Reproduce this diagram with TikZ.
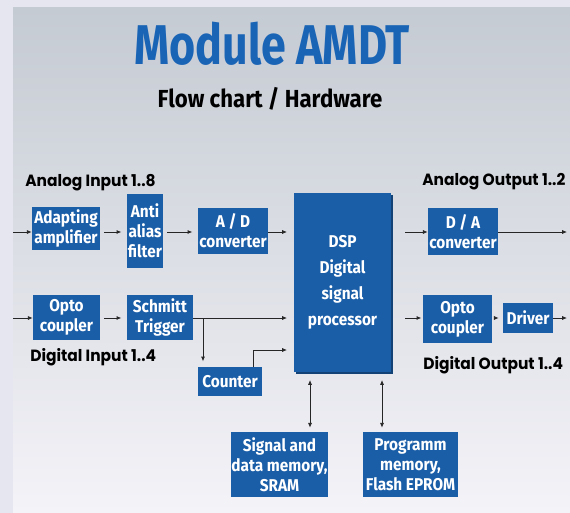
\documentclass[tikz,border=0pt]{standalone}
\usepackage{fontspec}
\setmainfont{Fira Sans}[FakeStretch=0.9]
\newfontfamily\titlefont{Fira Sans}[FakeStretch=0.8]
\newfontfamily\lblfont{Poppins}[FakeStretch=0.95]
\usetikzlibrary{arrows.meta}
\definecolor{outerbg}{RGB}{230,230,240}
\definecolor{paneltop}{RGB}{197,203,211}
\definecolor{panelbot}{RGB}{244,243,248}
\definecolor{amdtblue}{RGB}{27,94,168}
\definecolor{titleblue}{RGB}{26,100,182}
\tikzset{
  blk/.style={fill=amdtblue, text=white, align=center, inner sep=0pt,
    font=\bfseries\fontsize{12.8}{15}\selectfont},
  lbl/.style={anchor=west, inner sep=0pt, font=\lblfont\bfseries\fontsize{12.2}{13}\selectfont},
  flow/.style={-{Latex[length=3.6pt,width=3pt]}, line width=0.6pt, black!85},
  both/.style={{Latex[length=3.6pt,width=3pt]}-{Latex[length=3.6pt,width=3pt]}, line width=0.6pt, black!85}
}
\begin{document}
\begin{tikzpicture}[x=0.75pt,y=0.75pt,yscale=-1,xscale=1]
	\useasboundingbox (0,0) rectangle (570,513);
	%Background
	\fill [outerbg] (0,0) rectangle (570,513);
	\shade [top color=paneltop, bottom color=panelbot] (13,8) rectangle (570,513);

	% Title
	\node (title) at (272,44) [text=titleblue, inner sep=0pt, font=\titlefont\bfseries\fontsize{42}{44}\selectfont] {Module AMDT};
	\node (subtitle) at (270,99) [inner sep=0pt, font=\bfseries\fontsize{18.5}{20}\selectfont] {Flow chart / Hardware};

	% Labels
	\node (ain) at (25,183) [lbl] {Analog Input 1..8};
	\node (din) at (30,357) [lbl] {Digital Input 1..4};
	\node (aout) at (422,182) [lbl] {Analog Output 1..2};
	\node (dout) at (423,365) [lbl] {Digital Output 1..4};

	% Blocks
	\node (adapt) at (66,228.5) [blk, minimum width=51pt, minimum height=32.25pt] {Adapting\\amplifier};
	\node (alias) at (145,231) [blk, minimum width=27pt, minimum height=55.5pt] {Anti\\alias\\filter};
	\node (adc) at (233,231) [blk, minimum width=52.5pt, minimum height=34.5pt] {A / D\\converter};
	\node (optoin) at (66.5,317.5) [blk, minimum width=50.25pt, minimum height=33.75pt] {Opto\\coupler};
	\node (schmitt) at (160,317.5) [blk, minimum width=49.5pt, minimum height=33.75pt] {Schmitt\\Trigger};
	\node (counter) at (230,381.5) [blk, minimum width=48pt, minimum height=21.75pt] {Counter};
	%DSP with shadow edge
	\fill [amdtblue!70!black] (296,195) rectangle (393,374);
	\node (dsp) at (342.5,282.5) [blk, minimum width=72.75pt, minimum height=134.25pt, font=\bfseries\fontsize{12.8}{19.5}\selectfont] {DSP\\Digital\\signal\\processor};
	\node (dac) at (463,231.5) [blk, minimum width=52.5pt, minimum height=35.25pt] {D / A\\converter};
	\node (optoout) at (457.5,319) [blk, minimum width=51.75pt, minimum height=36pt] {Opto\\coupler};
	\node (driver) at (528,318) [blk, minimum width=37.5pt, minimum height=22.5pt] {Driver};
	\node (sram) at (279.5,464.5) [blk, minimum width=71.25pt, minimum height=48.75pt] {Signal and\\data memory,\\SRAM};
	\node (flash) at (410.5,464.5) [blk, minimum width=71.25pt, minimum height=48.75pt] {Programm\\memory,\\Flash EPROM};

	% Connection points
	\coordinate (ainpt) at (13,232);
	\coordinate (dinpt) at (13,318);
	\coordinate (aoutpt) at (567,232);
	\coordinate (doutpt) at (567,318);
	\coordinate (dspa) at (287,232);
	\coordinate (dspd) at (287,318);
	\coordinate (dspc) at (287,350);
	\coordinate (dspao) at (405,232);
	\coordinate (dspdo) at (405,318);
	\coordinate (branch) at (203,318);
	\coordinate (cntup) at (253,350);
	\coordinate (memA) at (310,380);
	\coordinate (memB) at (382,380);

	% Analog path
	\draw [flow] (ainpt) -- (adapt.west |- ainpt);
	\draw [flow, shorten <=3pt, shorten >=4pt] (adapt.east |- ainpt) -- (alias.west |- ainpt);
	\draw [flow, shorten <=3pt, shorten >=4pt] (alias.east |- ainpt) -- (adc.west |- ainpt);
	\draw [flow] (adc.east |- ainpt) -- (dspa);
	\draw [flow] (dspao) -- (dac.west |- dspao);
	\draw [flow] (dac.east |- aoutpt) -- (aoutpt);

	% Digital path
	\draw [flow] (dinpt) -- (optoin.west |- dinpt);
	\draw [flow, shorten <=3pt, shorten >=4pt] (optoin.east |- dinpt) -- (schmitt.west |- dinpt);
	\draw [flow] (schmitt.east |- dinpt) -- (dspd);
	\draw [flow, shorten >=4pt] (branch) -- (branch |- counter.north);
	\draw [flow] (counter.north -| cntup) -- (cntup) -- (dspc);
	\draw [flow, shorten >=1pt] (dspdo) -- (optoout.west |- dspdo);
	\draw [flow, shorten <=3pt, shorten >=3pt] (optoout.east |- doutpt) -- (driver.west |- doutpt);
	\draw [flow] (driver.east |- doutpt) -- (doutpt);

	% Memory
	\draw [both, shorten >=3pt] (memA) -- (memA |- sram.north);
	\draw [both, shorten >=3pt] (memB) -- (memB |- flash.north);

\end{tikzpicture}
\end{document}
